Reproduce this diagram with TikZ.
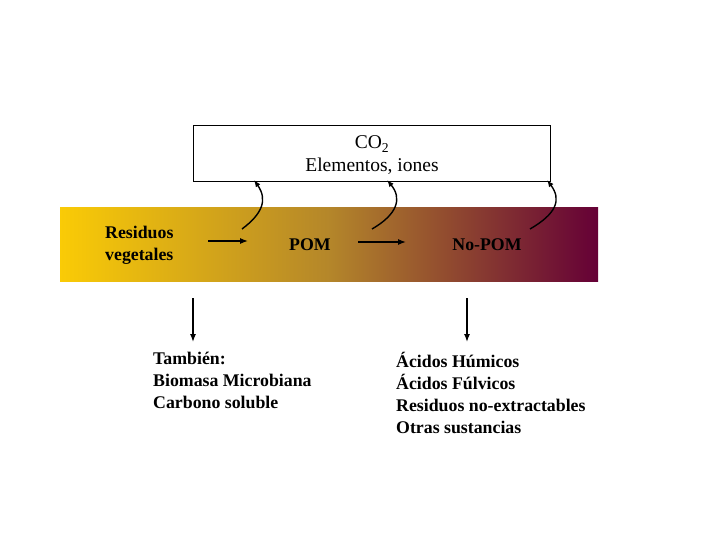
\documentclass[tikz,border=0pt]{standalone}
\usepackage{fontspec}
\setmainfont{Liberation Serif}
\usetikzlibrary{arrows.meta}
\definecolor{cyel}{HTML}{FACB06}
\definecolor{cmid}{HTML}{B4862A}
\definecolor{cpur}{HTML}{650036}
\begin{document}
\begin{tikzpicture}[x=1pt,y=-1pt,
  lbl/.style={font=\fontsize{17.8}{22}\selectfont\bfseries, inner sep=0pt, align=left},
  arr/.style={-{Latex[length=8pt,width=6pt]}, line width=1.3pt, black},
  carr/.style={-{Latex[length=7pt,width=5.5pt]}, line width=1.4pt, black}]
\useasboundingbox (0,0) rectangle (720,540);
\fill[white] (0,0) rectangle (720,540);
% gradient band
\shade[left color=cyel, right color=cmid] (60,208) rectangle (330,281);
\shade[left color=cmid, right color=cpur] (329.5,208) rectangle (598,281);
% top box
\node[draw=black, line width=0.8pt, minimum width=357pt, minimum height=56pt, inner sep=0pt] (box) at (371.5,153) {};
\node[font=\fontsize{19.5}{22}\selectfont, inner sep=0pt, anchor=base] (co2) at (372,149) {CO\textsubscript{2}};
\node[font=\fontsize{19.5}{22}\selectfont, inner sep=0pt, anchor=base] (elem) at (372,172) {Elementos, iones};
% band labels
\node[lbl, anchor=west] (res) at (105,245) {Residuos\\vegetales};
\node[lbl] (pom) at (310,245) {POM};
\node[lbl] (nopom) at (487,245) {No-POM};
% horizontal arrows
\coordinate (h1a) at (208,241); \coordinate (h1b) at (248,241);
\coordinate (h2a) at (358,242); \coordinate (h2b) at (406,242);
\draw[arr] (h1a) -- (h1b);
\draw[arr] (h2a) -- (h2b);
% curved arrows
\coordinate (c1s) at (242,229); \coordinate (c1e) at (254,180);
\coordinate (c2s) at (372,229); \coordinate (c2e) at (387,180);
\coordinate (c3s) at (530,229); \coordinate (c3e) at (547,180);
\draw[carr] (c1s) .. controls (262,214) and (268,200) .. (c1e);
\draw[carr] (c2s) .. controls (398,214) and (402,198) .. (c2e);
\draw[carr] (c3s) .. controls (556,214) and (562,200) .. (c3e);
% down arrows
\coordinate (d1a) at (193,298); \coordinate (d1b) at (193,342);
\coordinate (d2a) at (467,298); \coordinate (d2b) at (467,342);
\draw[arr] (d1a) -- (d1b);
\draw[arr] (d2a) -- (d2b);
% lower text
\node[lbl, anchor=north west] (tam) at (153,352) {También:\\Biomasa Microbiana\\Carbono soluble};
\node[lbl, anchor=north west] (acid) at (396,352) {Ácidos Húmicos\\Ácidos Fúlvicos\\Residuos no-extractables\\Otras sustancias};
\end{tikzpicture}
\end{document}
